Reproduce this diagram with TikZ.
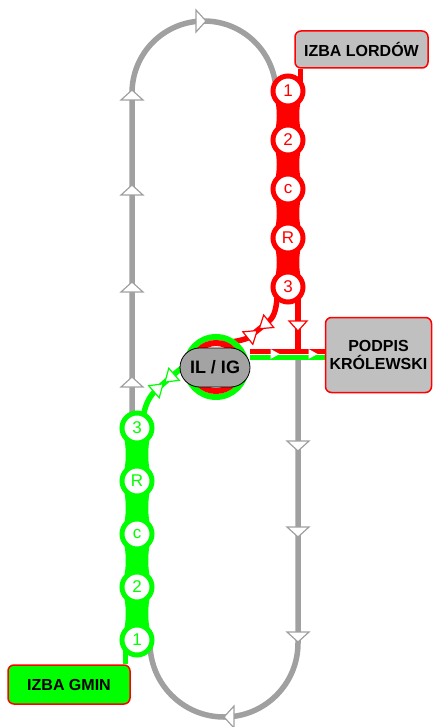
\documentclass[tikz,border=0pt]{standalone}
\usepackage{fontspec}
\setmainfont{Liberation Sans}
\definecolor{lred}{HTML}{FF0000}
\definecolor{lgreen}{HTML}{00FF00}
\definecolor{lgray}{HTML}{A0A0A0}
\definecolor{boxgray}{HTML}{C0C0C0}
\definecolor{stgray}{HTML}{A3A3A3}
\pgfdeclarelayer{back}
\pgfsetlayers{back,main}
\tikzset{
  track/.style={draw=lgray, line width=5.5pt},
  rline/.style={draw=lred, line width=5.5pt},
  gline/.style={draw=lgreen, line width=5.5pt},
  rc/.style={circle, draw=lred, fill=white, line width=5pt, minimum size=30pt, inner sep=0pt, text=lred, font=\fontsize{17}{17}\selectfont},
  gc/.style={rc, draw=lgreen, text=lgreen},
  lbl/.style={draw=lred, line width=1.5pt, rounded corners=6pt, align=center, inner sep=0pt, font=\bfseries\fontsize{16}{18}\selectfont},
  pics/arr/.style n args={3}{code={\filldraw[fill=white, draw=#1, line width=1.2pt] (#3,0) -- (-#3,#2) -- (-#3,-#2) -- cycle;}},
  pics/warr/.style={code={\fill[white] (4.5,0) -- (-4.5,5) -- (-4.5,-5) -- cycle;}},
}
\begin{document}
\begin{tikzpicture}[x=1pt,y=-1pt]
\useasboundingbox (0,0) rectangle (433,727);
% chain circles
\foreach \t [count=\i] in {1,2,c,R,3}{\node[rc] (r\i) at (288,{91+49*(\i-1)}) {\t};}
\foreach \t [count=\i] in {1,2,c,R,3}{\node[gc] (g\i) at (137,{640-53*(\i-1)}) {\t};}
% rings and joint node
\node[circle, draw=lgreen, line width=6pt, minimum size=60pt, inner sep=0pt] (gring) at (216,367) {};
\node[circle, draw=lred, line width=6pt, minimum size=48pt, inner sep=0pt] (rring) at (216,367) {};
\node[draw=black, line width=0.8pt, fill=stgray, rounded corners=19.5pt, minimum width=70pt, minimum height=39pt, inner sep=0pt, font=\bfseries\fontsize{18}{18}\selectfont] (il) at (215,367.5) {IL / IG};
% boxes
\node[lbl, fill=boxgray, minimum width=133pt, minimum height=37pt] (lords) at (361.5,49.5) {IZBA LORDÓW};
\node[lbl, fill=boxgray, minimum width=106pt, minimum height=75pt] (podpis) at (378.5,355) {PODPIS\\KRÓLEWSKI};
\node[lbl, fill=lgreen, minimum width=122pt, minimum height=39pt] (gmin) at (69,684.5) {IZBA GMIN};
\coordinate (rj) at (298,351);
\coordinate (gj) at (298,357);
\begin{pgfonlayer}{back}
  % gray tracks
  \draw[track] (132,420) -- (132,93) .. controls (132,53.2) and (164.2,21) .. (204,21) .. controls (243.8,21) and (276,53.2) .. (276,93);
  \draw[track] (298,356) -- (298,643) .. controls (298,683.9) and (264.9,717) .. (224,717) .. controls (183.1,717) and (150,683.9) .. (150,643);
  % chain bodies
  \foreach \a/\b in {91/140,140/189,189/238,238/287}{
    \fill[lred] (273,\a) .. controls (278,{\a+17}) and (278,{\b-17}) .. (273,\b) -- (303,\b) .. controls (298,{\b-17}) and (298,{\a+17}) .. (303,\a) -- cycle;}
  \foreach \a/\b in {428/481,481/534,534/587,587/640}{
    \fill[lgreen] (122,\a) .. controls (127,{\a+18.5}) and (127,{\b-18.5}) .. (122,\b) -- (152,\b) .. controls (147,{\b-18.5}) and (147,{\a+18.5}) .. (152,\a) -- cycle;}
  % links to boxes
  \draw[rline, line width=5pt] (lords.south west -| 300.5,0) -- (300.5,85);
  \draw[gline, line width=5pt] (gmin.north east -| 125.5,0) -- (125.5,650);
  % legs
  \draw[rline] (298,298) -- (rj);
  \draw[rline, line width=5pt] (il.east |- rj) -- (podpis.west |- rj);
  \draw[gline, line width=5pt] (il.east |- gj) -- (podpis.west |- gj);
  \draw[rline] (277,298) .. controls (276,312) and (273,318) .. (268,322) -- (248,338) .. controls (240,341) and (232,342) .. (222,343);
  \draw[gline] (144,413) .. controls (146,403) and (150,396) .. (156,390) -- (172,376) .. controls (177,372) and (181,368) .. (188,364);
\end{pgfonlayer}
% arrows
\foreach \y in {95,190,287,382}{\pic[rotate=90] at (132,\y) {arr={lgray}{11}{5}};}
\pic at (201,21) {arr={lgray}{11}{5}};
\foreach \y in {446,532,637}{\pic[rotate=-90] at (298,\y) {arr={lgray}{11}{5}};}
\pic[rotate=180] at (229,717) {arr={lgray}{11}{5}};
\pic[rotate=-90] at (298,326) {arr={lred}{9}{5}};
\pic at (275,354) {warr};
\pic at (313,354) {warr};
\pic[rotate=38.7] at (252.5,334.3) {arr={lred}{8}{6}};
\pic[rotate=218.7] at (264,325) {arr={lred}{8}{6}};
\pic[rotate=41] at (158.5,387.8) {arr={lgreen}{8}{6}};
\pic[rotate=221] at (169.5,378.2) {arr={lgreen}{8}{6}};
\end{tikzpicture}
\end{document}
